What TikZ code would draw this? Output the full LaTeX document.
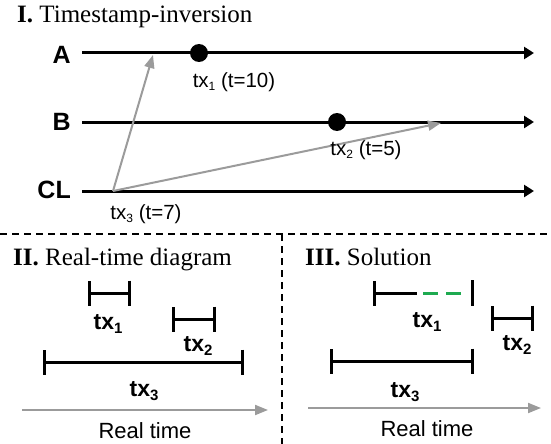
\documentclass[tikz,border=0pt]{standalone}
\usepackage{fontspec}
\setmainfont{Liberation Serif}
\newfontfamily\arialf{Liberation Sans}
\usetikzlibrary{arrows.meta}
\definecolor{arrgray}{RGB}{155,155,155}
\definecolor{solgreen}{RGB}{30,170,80}
\newcommand\evsub[1]{\raisebox{-3pt}{\fontsize{12}{12}\selectfont #1}}
\newcommand\txsub[1]{\raisebox{-4pt}{\fontsize{15}{15}\selectfont #1}}
\begin{document}
\begin{tikzpicture}[x=1pt,y=-1pt,
  title/.style={anchor=base west,inner sep=0pt,font=\fontsize{25}{27}\selectfont},
  proc/.style={anchor=east,inner sep=0pt,font=\arialf\bfseries\fontsize{25}{27}\selectfont},
  timeline/.style={line width=3pt,-{Triangle[length=10pt,width=12pt]}},
  msg/.style={arrgray,line width=2pt,-{Triangle[length=13pt,width=10pt]}},
  dot/.style={circle,fill=black,inner sep=0pt,minimum size=18pt},
  evlabel/.style={inner sep=0pt,font=\arialf\fontsize{20.5}{22}\selectfont},
  ivl/.style={line width=3pt,line cap=butt},
  bars/.style={ivl,{Bar[width=25pt]}-{Bar[width=25pt]}},
  txlabel/.style={inner sep=0pt,font=\arialf\bfseries\fontsize{23}{25}\selectfont},
  rtarrow/.style={arrgray,line width=2pt,-{Triangle[length=13pt,width=10pt]}},
  rtlabel/.style={inner sep=0pt,font=\arialf\fontsize{22}{24}\selectfont},
  sep/.style={line width=1.8pt,dash pattern=on 7pt off 5pt}]
\useasboundingbox (0,0) rectangle (551,444);

% ---------- Section I ----------
\node[title] (t1) at (17,23) {\textbf{I.} Timestamp-inversion};
\node[proc] (pA) at (71,55) {A};
\node[proc] (pB) at (71,122) {B};
\node[proc] (pC) at (71,190) {CL};
\coordinate (Aa) at (82,53);  \coordinate (Ab) at (534,53);
\coordinate (Ba) at (82,122); \coordinate (Bb) at (534,122);
\coordinate (Ca) at (82,191); \coordinate (Cb) at (534,191);
\draw[timeline] (Aa) -- (Ab);
\draw[timeline] (Ba) -- (Bb);
\draw[timeline] (Ca) -- (Cb);
\node[dot] (d1) at (199,53) {};
\node[dot] (d2) at (337,122) {};
\coordinate (c3) at (113,191);
\coordinate (e1) at (153,55);
\coordinate (e2) at (441,123);
\draw[msg] (c3) -- (e1);
\draw[msg] (c3) -- (e2);
\node[evlabel] (l1) at (234,82) {tx\evsub{1} (t=10)};
\node[evlabel] (l2) at (366,150) {tx\evsub{2} (t=5)};
\node[evlabel] (l3) at (146,214) {tx\evsub{3} (t=7)};

% ---------- separators ----------
\coordinate (s1) at (0,234); \coordinate (s2) at (551,234);
\coordinate (s3) at (282,234); \coordinate (s4) at (282,444);
\draw[sep] (s1) -- (s2);
\draw[sep] (s3) -- (s4);

% ---------- Section II ----------
\node[title] (t2) at (13,265) {\textbf{II.} Real-time diagram};
\coordinate (a1) at (88,293);  \coordinate (b1) at (131,293);
\coordinate (a2) at (172,319); \coordinate (b2) at (216,319);
\coordinate (a3) at (43,362);  \coordinate (b3) at (244,362);
\draw[bars] (a1) -- (b1);
\draw[bars] (a2) -- (b2);
\draw[bars] (a3) -- (b3);
\node[txlabel] (x1) at (108,324) {tx\txsub{1}};
\node[txlabel] (x2) at (198,346) {tx\txsub{2}};
\node[txlabel] (x3) at (144,391) {tx\txsub{3}};
\coordinate (r1) at (22,410); \coordinate (r2) at (268,410);
\draw[rtarrow] (r1) -- (r2);
\node[rtlabel] (rt1) at (145,431) {Real time};

% ---------- Section III ----------
\node[title] (t3) at (305,265) {\textbf{III.} Solution};
\coordinate (sa1) at (373,293); \coordinate (sm1) at (417,293);
\coordinate (g1) at (423,293);  \coordinate (g2) at (461,293);
\coordinate (rb1) at (472,280); \coordinate (rb2) at (472,306);
\draw[ivl,{Bar[width=25pt]}-] (sa1) -- (sm1);
\draw[ivl,solgreen,dash pattern=on 15pt off 8pt] (g1) -- (g2);
\draw[ivl] (rb1) -- (rb2);
\coordinate (sa2) at (491,318); \coordinate (sb2) at (534,318);
\coordinate (sa3) at (330,361); \coordinate (sb3) at (474,361);
\draw[bars] (sa2) -- (sb2);
\draw[bars] (sa3) -- (sb3);
\node[txlabel] (y1) at (427,322) {tx\txsub{1}};
\node[txlabel] (y2) at (517,345) {tx\txsub{2}};
\node[txlabel] (y3) at (405,392) {tx\txsub{3}};
\coordinate (q1) at (308,408); \coordinate (q2) at (541,408);
\draw[rtarrow] (q1) -- (q2);
\node[rtlabel] (rt2) at (427,429) {Real time};
\end{tikzpicture}
\end{document}
